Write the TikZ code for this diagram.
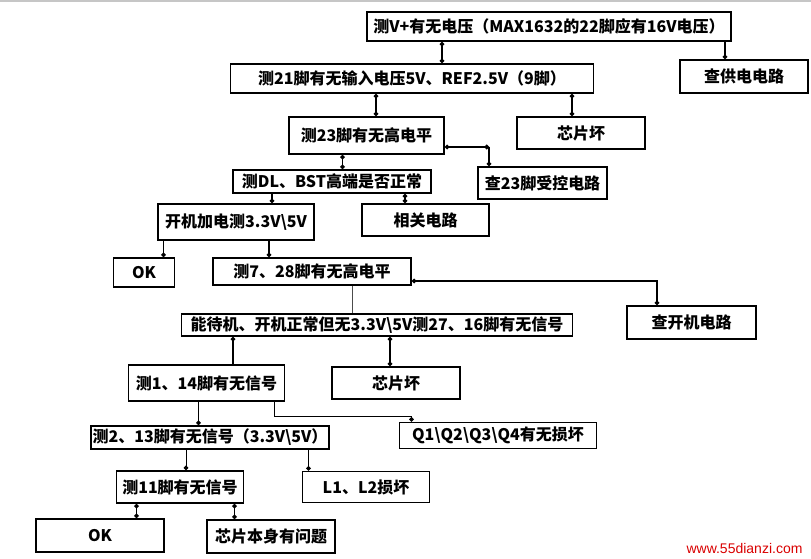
\documentclass[tikz,border=0pt]{standalone}
\usepackage{fontspec}
\usepackage{tikz}
\usetikzlibrary{arrows.meta}
\setmainfont{Noto Sans CJK SC}
\newfontfamily\webfont{Liberation Sans}

\begin{document}
\begin{tikzpicture}[x=1pt, y=-1pt,
    box/.style={draw, line width=1.7pt, inner sep=0pt, font=\bfseries\fontsize{16}{18}\selectfont},
    link/.style={line width=1.4pt, {Circle[length=4.5pt,width=4.5pt]}-{Circle[length=4.5pt,width=4.5pt]}},
    linkend/.style={line width=1.4pt, -{Circle[length=4.5pt,width=4.5pt]}},
    linkstart/.style={line width=1.4pt, {Circle[length=4.5pt,width=4.5pt]}-},
    thinlink/.style={line width=0.8pt, black!70}]
    \useasboundingbox (0,0) rectangle (811,559);
    \fill[gray!45] (0,0) rectangle (811,2.5);

    \node[box, minimum width=364pt, minimum height=29pt] (top) at (549,26.5) {测V+有无电压（MAX1632的22脚应有16V电压）};
    \node[box, minimum width=128pt, minimum height=33pt] (gong) at (744,76.5) {查供电电路};
    \node[box, minimum width=363pt, minimum height=29pt] (r21) at (412,78.5) {测21脚有无输入电压5V、REF2.5V（9脚）};
    \node[box, minimum width=155pt, minimum height=37pt] (r23) at (366.5,135.5) {测23脚有无高电平};
    \node[box, minimum width=128pt, minimum height=32pt] (bad1) at (581,133) {芯片坏};
    \node[box, minimum width=129pt, minimum height=32pt] (q23) at (542.5,183) {查23脚受控电路};
    \node[box, minimum width=198pt, minimum height=23pt] (dl) at (332,181.5) {测DL、BST高端是否正常};
    \node[box, minimum width=156pt, minimum height=36pt] (kj) at (236,222) {开机加电测3.3V\textbackslash 5V};
    \node[box, minimum width=127pt, minimum height=32pt] (xg) at (425.5,220) {相关电路};
    \node[box, minimum width=61pt, minimum height=29pt] (ok1) at (144,272.5) {OK};
    \node[box, minimum width=198pt, minimum height=27pt] (r7) at (312,271.5) {测7、28脚有无高电平};
    \node[box, minimum width=129pt, minimum height=33pt] (kjc) at (691.5,322.5) {查开机电路};
    \node[box, minimum width=391pt, minimum height=22pt] (dj) at (377,325) {能待机、开机正常但无3.3V\textbackslash 5V测27、16脚有无信号};
    \node[box, minimum width=156pt, minimum height=36pt] (r1) at (206.5,383) {测1、14脚有无信号};
    \node[box, minimum width=128pt, minimum height=32pt] (bad2) at (396,383) {芯片坏};
    \node[box, minimum width=238pt, minimum height=23pt] (r2) at (210,437.5) {测2、13脚有无信号（3.3V\textbackslash 5V）};
    \node[box, minimum width=197pt, minimum height=26pt] (q1) at (498,435.5) {Q1\textbackslash Q2\textbackslash Q3\textbackslash Q4有无损坏};
    \node[box, minimum width=127pt, minimum height=32pt] (r11) at (180,487) {测11脚有无信号};
    \node[box, minimum width=127pt, minimum height=31pt] (l1) at (366,487) {L1、L2损坏};
    \node[box, minimum width=128pt, minimum height=33pt] (ok2) at (100,535.5) {OK};
    \node[box, minimum width=128pt, minimum height=33pt] (bs) at (271,536.5) {芯片本身有问题};
    \coordinate (bend) at (489,147);

    \draw[link] (top.south -| 442,0) -- (r21.north -| 442,0);
    \draw[linkend] (top.south -| 725,0) -- (gong.north -| 725,0);
    \draw[link] (r21.south -| 376,0) -- (r23.north -| 376,0);
    \draw[link] (r21.south -| 572,0) -- (bad1.north -| 572,0);
    \draw[link] (r23.east |- bend) -- (bend);
    \draw[linkend] (bend) -- (q23.north -| bend);
    \draw[link] (r23.south -| 342.5,0) -- (dl.north -| 342.5,0);
    \draw[linkend] (dl.south -| 272,0) -- (kj.north -| 272,0);
    \draw[link] (dl.south -| 405,0) -- (xg.north -| 405,0);
    \draw[linkend] (kj.south -| 163.5,0) -- (ok1.north -| 163.5,0);
    \draw[linkend] (kj.south -| 269,0) -- (r7.north -| 269,0);
    \draw[link] (r7.east |- 0,281) -| (kjc.north -| 657,0);
    \draw[thinlink] (r7.south -| 352,0) -- (dj.north -| 352,0);
    \draw[linkstart] (dj.south -| 233,0) -- (r1.north -| 233,0);
    \draw[link] (dj.south -| 390,0) -- (bad2.north -| 390,0);
    \draw[linkend, line width=1pt] (r1.south -| 198.5,0) -- (r2.north -| 198.5,0);
    \draw[linkend, line width=1pt] (r1.south -| 274,0) -- ++(0,14.5) -| (q1.north -| 411.5,0);
    \draw[linkend, line width=1pt] (r2.south -| 186,0) -- (r11.north -| 186,0);
    \draw[linkend] (r2.south -| 308.5,0) -- (l1.north -| 308.5,0);
    \draw[link] (r11.south -| 136.5,0) -- (ok2.north -| 136.5,0);
    \draw[link] (r11.south -| 234.5,0) -- (bs.north -| 234.5,0);

    \node[text=red!85!black, font=\webfont\fontsize{14}{16}\selectfont, anchor=east] (web) at (806,548) {www.55dianzi.com};
\end{tikzpicture}
\end{document}
